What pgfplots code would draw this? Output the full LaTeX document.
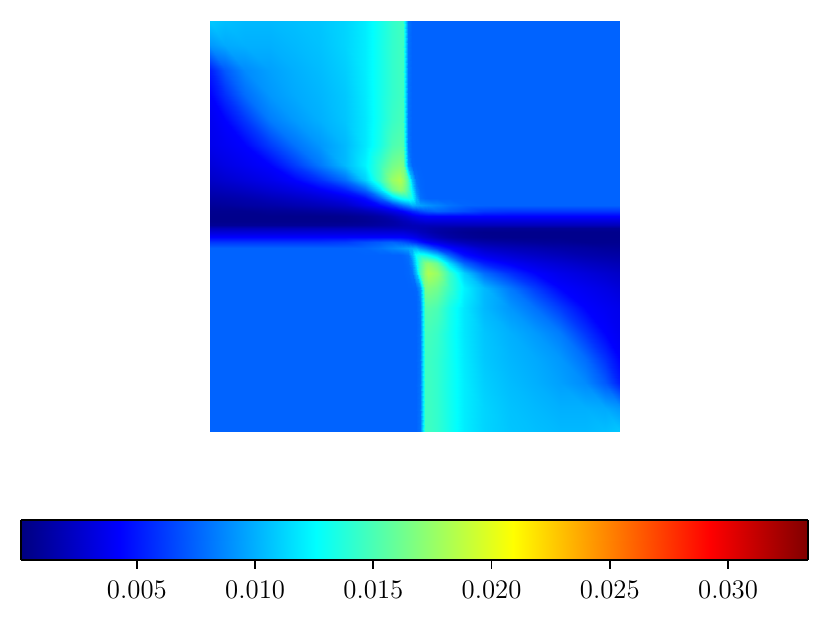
\documentclass[border=0pt]{standalone}
\usepackage{pgfplots}
\pgfplotsset{compat=1.18}
\begin{document}
\begin{tikzpicture}[x=1pt,y=1pt]
\path[use as bounding box] (0,0) rectangle (415,312.5);
\begin{axis}[
  at={(105pt,96.5pt)},
  anchor=south west,
  scale only axis,
  width=205pt, height=205.5pt,
  hide axis,
  view={0}{90},
  xmin=210, xmax=620,
  ymin=21, ymax=432,
  colormap/jet,
  point meta min=0.0001,
  point meta max=0.03338,
]
% y is in image pixels from the top, flipped by the filter
\addplot3[surf, shader=interp, mesh/cols=28, mesh/ordering=x varies, y filter/.expression={453-y}] coordinates {
(210,21,.0108)(225,21,.0105)(245,21,.0103)(270,21,.0103)(295,21,.0105)(320,21,.0107)(345,21,.0112)(365,21,.0120)(380,21,.0132)(392,21,.0142)(400,21,.0146)(403,21,.0146)(408,21,.0080)(412,21,.0075)(416,21,.0075)(420,21,.0075)(425,21,.0075)(428,21,.0075)(437,21,.0075)(449,21,.0075)(464,21,.0075)(484,21,.0075)(510,21,.0075)(535,21,.0075)(560,21,.0075)(585,21,.0075)(605,21,.0075)(620,21,.0075)
(210,45,.0092)(225,45,.0098)(245,45,.0100)(270,45,.0100)(295,45,.0103)(320,45,.0106)(345,45,.0112)(365,45,.0120)(380,45,.0132)(392,45,.0142)(400,45,.0146)(403,45,.0146)(408,45,.0080)(412,45,.0075)(416,45,.0075)(420,45,.0075)(425,45,.0075)(428,45,.0075)(437,45,.0075)(449,45,.0075)(464,45,.0075)(484,45,.0075)(510,45,.0075)(535,45,.0075)(560,45,.0075)(585,45,.0075)(605,45,.0075)(620,45,.0075)
(210,70,.0052)(225,70,.0072)(245,70,.0088)(270,70,.0095)(295,70,.0100)(320,70,.0104)(345,70,.0110)(365,70,.0120)(380,70,.0132)(392,70,.0142)(400,70,.0146)(403,70,.0146)(408,70,.0080)(412,70,.0075)(416,70,.0075)(420,70,.0075)(425,70,.0075)(428,70,.0075)(437,70,.0075)(449,70,.0075)(464,70,.0075)(484,70,.0075)(510,70,.0075)(535,70,.0075)(560,70,.0075)(585,70,.0075)(605,70,.0075)(620,70,.0075)
(210,95,.0042)(225,95,.0058)(245,95,.0078)(270,95,.0092)(295,95,.0098)(320,95,.0102)(345,95,.0108)(365,95,.0119)(380,95,.0132)(392,95,.0142)(400,95,.0146)(403,95,.0146)(408,95,.0080)(412,95,.0075)(416,95,.0075)(420,95,.0075)(425,95,.0075)(428,95,.0075)(437,95,.0075)(449,95,.0075)(464,95,.0075)(484,95,.0075)(510,95,.0075)(535,95,.0075)(560,95,.0075)(585,95,.0075)(605,95,.0075)(620,95,.0075)
(210,120,.0038)(225,120,.0043)(245,120,.0060)(270,120,.0083)(295,120,.0093)(320,120,.0100)(345,120,.0107)(365,120,.0118)(380,120,.0132)(392,120,.0144)(400,120,.0148)(403,120,.0148)(408,120,.0080)(412,120,.0075)(416,120,.0075)(420,120,.0075)(425,120,.0075)(428,120,.0075)(437,120,.0075)(449,120,.0075)(464,120,.0075)(484,120,.0075)(510,120,.0075)(535,120,.0075)(560,120,.0075)(585,120,.0075)(605,120,.0075)(620,120,.0075)
(210,145,.0036)(225,145,.0039)(245,145,.0043)(270,145,.0062)(295,145,.0080)(320,145,.0092)(345,145,.0103)(365,145,.0118)(380,145,.0134)(392,145,.0150)(400,145,.0154)(403,145,.0152)(408,145,.0082)(412,145,.0075)(416,145,.0075)(420,145,.0075)(425,145,.0075)(428,145,.0075)(437,145,.0075)(449,145,.0075)(464,145,.0075)(484,145,.0075)(510,145,.0075)(535,145,.0075)(560,145,.0075)(585,145,.0075)(605,145,.0075)(620,145,.0075)
(210,165,.0030)(225,165,.0034)(245,165,.0038)(270,165,.0043)(295,165,.0062)(320,165,.0082)(345,165,.0103)(365,165,.0122)(380,165,.0145)(392,165,.0163)(400,165,.0168)(403,165,.0165)(408,165,.0092)(412,165,.0076)(416,165,.0075)(420,165,.0075)(425,165,.0075)(428,165,.0075)(437,165,.0075)(449,165,.0075)(464,165,.0075)(484,165,.0075)(510,165,.0075)(535,165,.0075)(560,165,.0075)(585,165,.0075)(605,165,.0075)(620,165,.0075)
(210,180,.0024)(225,180,.0027)(245,180,.0031)(270,180,.0036)(295,180,.0043)(320,180,.0058)(345,180,.0078)(365,180,.0110)(380,180,.0145)(392,180,.0175)(400,180,.0183)(403,180,.0175)(408,180,.0150)(412,180,.0105)(416,180,.0080)(420,180,.0076)(425,180,.0075)(428,180,.0075)(437,180,.0075)(449,180,.0075)(464,180,.0075)(484,180,.0075)(510,180,.0075)(535,180,.0075)(560,180,.0075)(585,180,.0075)(605,180,.0075)(620,180,.0075)
(210,190,.0018)(225,190,.0020)(245,190,.0023)(270,190,.0028)(295,190,.0033)(320,190,.0040)(345,190,.0052)(365,190,.0075)(380,190,.0115)(392,190,.0160)(400,190,.0172)(403,190,.0168)(408,190,.0150)(412,190,.0120)(416,190,.0088)(420,190,.0077)(425,190,.0075)(428,190,.0075)(437,190,.0075)(449,190,.0075)(464,190,.0075)(484,190,.0075)(510,190,.0075)(535,190,.0075)(560,190,.0075)(585,190,.0075)(605,190,.0075)(620,190,.0075)
(210,198,.0013)(225,198,.0014)(245,198,.0016)(270,198,.0020)(295,198,.0024)(320,198,.0029)(345,198,.0036)(365,198,.0047)(380,198,.0075)(392,198,.0110)(400,198,.0128)(403,198,.0132)(408,198,.0135)(412,198,.0128)(416,198,.0100)(420,198,.0080)(425,198,.0076)(428,198,.0075)(437,198,.0075)(449,198,.0075)(464,198,.0075)(484,198,.0075)(510,198,.0075)(535,198,.0075)(560,198,.0075)(585,198,.0075)(605,198,.0075)(620,198,.0075)
(210,205,.0009)(225,205,.0010)(245,205,.0012)(270,205,.0014)(295,205,.0017)(320,205,.0020)(345,205,.0025)(365,205,.0036)(380,205,.0046)(392,205,.0060)(400,205,.0076)(403,205,.0082)(408,205,.0090)(412,205,.0100)(416,205,.0098)(420,205,.0095)(425,205,.0092)(428,205,.0090)(437,205,.0086)(449,205,.0080)(464,205,.0076)(484,205,.0075)(510,205,.0075)(535,205,.0075)(560,205,.0075)(585,205,.0075)(605,205,.0075)(620,205,.0075)
(210,211,.0006)(225,211,.0006)(245,211,.0006)(270,211,.0008)(295,211,.0009)(320,211,.0011)(345,211,.0014)(365,211,.0019)(380,211,.0026)(392,211,.0034)(400,211,.0040)(403,211,.0043)(408,211,.0050)(412,211,.0056)(416,211,.0060)(420,211,.0066)(425,211,.0070)(428,211,.0072)(437,211,.0075)(449,211,.0072)(464,211,.0068)(484,211,.0062)(510,211,.0060)(535,211,.0060)(560,211,.0060)(585,211,.0060)(605,211,.0060)(620,211,.0060)
(210,216,.0005)(225,216,.0005)(245,216,.0005)(270,216,.0005)(295,216,.0005)(320,216,.0005)(345,216,.0006)(365,216,.0009)(380,216,.0013)(392,216,.0019)(400,216,.0025)(403,216,.0027)(408,216,.0031)(412,216,.0035)(416,216,.0038)(420,216,.0040)(425,216,.0042)(428,216,.0043)(437,216,.0043)(449,216,.0043)(464,216,.0043)(484,216,.0043)(510,216,.0043)(535,216,.0043)(560,216,.0043)(585,216,.0043)(605,216,.0043)(620,216,.0043)
(210,221,.0005)(225,221,.0005)(245,221,.0005)(270,221,.0005)(295,221,.0005)(320,221,.0005)(345,221,.0005)(365,221,.0007)(380,221,.0010)(392,221,.0013)(400,221,.0017)(403,221,.0019)(408,221,.0021)(412,221,.0024)(416,221,.0026)(420,221,.0028)(425,221,.0030)(428,221,.0030)(437,221,.0030)(449,221,.0030)(464,221,.0030)(484,221,.0030)(510,221,.0030)(535,221,.0030)(560,221,.0030)(585,221,.0030)(605,221,.0030)(620,221,.0030)
(210,225,.0008)(225,225,.0008)(245,225,.0008)(270,225,.0008)(295,225,.0008)(320,225,.0008)(345,225,.0009)(365,225,.0010)(380,225,.0012)(392,225,.0014)(400,225,.0016)(403,225,.0017)(408,225,.0018)(412,225,.0019)(416,225,.0019)(420,225,.0020)(425,225,.0020)(428,225,.0020)(437,225,.0020)(449,225,.0020)(464,225,.0020)(484,225,.0020)(510,225,.0020)(535,225,.0020)(560,225,.0020)(585,225,.0020)(605,225,.0020)(620,225,.0020)
(210,228,.0020)(225,228,.0020)(245,228,.0020)(270,228,.0020)(295,228,.0020)(320,228,.0020)(345,228,.0020)(365,228,.0020)(380,228,.0020)(392,228,.0020)(400,228,.0020)(403,228,.0020)(408,228,.0020)(412,228,.0019)(416,228,.0019)(420,228,.0018)(425,228,.0017)(428,228,.0016)(437,228,.0014)(449,228,.0012)(464,228,.0010)(484,228,.0009)(510,228,.0008)(535,228,.0008)(560,228,.0008)(585,228,.0008)(605,228,.0008)(620,228,.0008)
(210,232,.0030)(225,232,.0030)(245,232,.0030)(270,232,.0030)(295,232,.0030)(320,232,.0030)(345,232,.0030)(365,232,.0030)(380,232,.0030)(392,232,.0030)(400,232,.0030)(403,232,.0030)(408,232,.0028)(412,232,.0026)(416,232,.0024)(420,232,.0021)(425,232,.0019)(428,232,.0017)(437,232,.0013)(449,232,.0010)(464,232,.0007)(484,232,.0005)(510,232,.0005)(535,232,.0005)(560,232,.0005)(585,232,.0005)(605,232,.0005)(620,232,.0005)
(210,237,.0043)(225,237,.0043)(245,237,.0043)(270,237,.0043)(295,237,.0043)(320,237,.0043)(345,237,.0043)(365,237,.0043)(380,237,.0043)(392,237,.0043)(400,237,.0043)(403,237,.0042)(408,237,.0040)(412,237,.0038)(416,237,.0035)(420,237,.0031)(425,237,.0027)(428,237,.0025)(437,237,.0019)(449,237,.0013)(464,237,.0009)(484,237,.0006)(510,237,.0005)(535,237,.0005)(560,237,.0005)(585,237,.0005)(605,237,.0005)(620,237,.0005)
(210,242,.0060)(225,242,.0060)(245,242,.0060)(270,242,.0060)(295,242,.0060)(320,242,.0060)(345,242,.0062)(365,242,.0068)(380,242,.0072)(392,242,.0075)(400,242,.0072)(403,242,.0070)(408,242,.0066)(412,242,.0060)(416,242,.0056)(420,242,.0050)(425,242,.0043)(428,242,.0040)(437,242,.0034)(449,242,.0026)(464,242,.0019)(484,242,.0014)(510,242,.0011)(535,242,.0009)(560,242,.0008)(585,242,.0006)(605,242,.0006)(620,242,.0006)
(210,248,.0075)(225,248,.0075)(245,248,.0075)(270,248,.0075)(295,248,.0075)(320,248,.0075)(345,248,.0075)(365,248,.0076)(380,248,.0080)(392,248,.0086)(400,248,.0090)(403,248,.0092)(408,248,.0095)(412,248,.0098)(416,248,.0100)(420,248,.0090)(425,248,.0082)(428,248,.0076)(437,248,.0060)(449,248,.0046)(464,248,.0036)(484,248,.0025)(510,248,.0020)(535,248,.0017)(560,248,.0014)(585,248,.0012)(605,248,.0010)(620,248,.0009)
(210,255,.0075)(225,255,.0075)(245,255,.0075)(270,255,.0075)(295,255,.0075)(320,255,.0075)(345,255,.0075)(365,255,.0075)(380,255,.0075)(392,255,.0075)(400,255,.0075)(403,255,.0076)(408,255,.0080)(412,255,.0100)(416,255,.0128)(420,255,.0135)(425,255,.0132)(428,255,.0128)(437,255,.0110)(449,255,.0075)(464,255,.0047)(484,255,.0036)(510,255,.0029)(535,255,.0024)(560,255,.0020)(585,255,.0016)(605,255,.0014)(620,255,.0013)
(210,263,.0075)(225,263,.0075)(245,263,.0075)(270,263,.0075)(295,263,.0075)(320,263,.0075)(345,263,.0075)(365,263,.0075)(380,263,.0075)(392,263,.0075)(400,263,.0075)(403,263,.0075)(408,263,.0077)(412,263,.0088)(416,263,.0120)(420,263,.0150)(425,263,.0168)(428,263,.0172)(437,263,.0160)(449,263,.0115)(464,263,.0075)(484,263,.0052)(510,263,.0040)(535,263,.0033)(560,263,.0028)(585,263,.0023)(605,263,.0020)(620,263,.0018)
(210,273,.0075)(225,273,.0075)(245,273,.0075)(270,273,.0075)(295,273,.0075)(320,273,.0075)(345,273,.0075)(365,273,.0075)(380,273,.0075)(392,273,.0075)(400,273,.0075)(403,273,.0075)(408,273,.0076)(412,273,.0080)(416,273,.0105)(420,273,.0150)(425,273,.0175)(428,273,.0183)(437,273,.0175)(449,273,.0145)(464,273,.0110)(484,273,.0078)(510,273,.0058)(535,273,.0043)(560,273,.0036)(585,273,.0031)(605,273,.0027)(620,273,.0024)
(210,288,.0075)(225,288,.0075)(245,288,.0075)(270,288,.0075)(295,288,.0075)(320,288,.0075)(345,288,.0075)(365,288,.0075)(380,288,.0075)(392,288,.0075)(400,288,.0075)(403,288,.0075)(408,288,.0075)(412,288,.0075)(416,288,.0076)(420,288,.0092)(425,288,.0165)(428,288,.0168)(437,288,.0163)(449,288,.0145)(464,288,.0122)(484,288,.0103)(510,288,.0082)(535,288,.0062)(560,288,.0043)(585,288,.0038)(605,288,.0034)(620,288,.0030)
(210,308,.0075)(225,308,.0075)(245,308,.0075)(270,308,.0075)(295,308,.0075)(320,308,.0075)(345,308,.0075)(365,308,.0075)(380,308,.0075)(392,308,.0075)(400,308,.0075)(403,308,.0075)(408,308,.0075)(412,308,.0075)(416,308,.0075)(420,308,.0082)(425,308,.0152)(428,308,.0154)(437,308,.0150)(449,308,.0134)(464,308,.0118)(484,308,.0103)(510,308,.0092)(535,308,.0080)(560,308,.0062)(585,308,.0043)(605,308,.0039)(620,308,.0036)
(210,333,.0075)(225,333,.0075)(245,333,.0075)(270,333,.0075)(295,333,.0075)(320,333,.0075)(345,333,.0075)(365,333,.0075)(380,333,.0075)(392,333,.0075)(400,333,.0075)(403,333,.0075)(408,333,.0075)(412,333,.0075)(416,333,.0075)(420,333,.0080)(425,333,.0148)(428,333,.0148)(437,333,.0144)(449,333,.0132)(464,333,.0118)(484,333,.0107)(510,333,.0100)(535,333,.0093)(560,333,.0083)(585,333,.0060)(605,333,.0043)(620,333,.0038)
(210,358,.0075)(225,358,.0075)(245,358,.0075)(270,358,.0075)(295,358,.0075)(320,358,.0075)(345,358,.0075)(365,358,.0075)(380,358,.0075)(392,358,.0075)(400,358,.0075)(403,358,.0075)(408,358,.0075)(412,358,.0075)(416,358,.0075)(420,358,.0080)(425,358,.0146)(428,358,.0146)(437,358,.0142)(449,358,.0132)(464,358,.0119)(484,358,.0108)(510,358,.0102)(535,358,.0098)(560,358,.0092)(585,358,.0078)(605,358,.0058)(620,358,.0042)
(210,383,.0075)(225,383,.0075)(245,383,.0075)(270,383,.0075)(295,383,.0075)(320,383,.0075)(345,383,.0075)(365,383,.0075)(380,383,.0075)(392,383,.0075)(400,383,.0075)(403,383,.0075)(408,383,.0075)(412,383,.0075)(416,383,.0075)(420,383,.0080)(425,383,.0146)(428,383,.0146)(437,383,.0142)(449,383,.0132)(464,383,.0120)(484,383,.0110)(510,383,.0104)(535,383,.0100)(560,383,.0095)(585,383,.0088)(605,383,.0072)(620,383,.0052)
(210,408,.0075)(225,408,.0075)(245,408,.0075)(270,408,.0075)(295,408,.0075)(320,408,.0075)(345,408,.0075)(365,408,.0075)(380,408,.0075)(392,408,.0075)(400,408,.0075)(403,408,.0075)(408,408,.0075)(412,408,.0075)(416,408,.0075)(420,408,.0080)(425,408,.0146)(428,408,.0146)(437,408,.0142)(449,408,.0132)(464,408,.0120)(484,408,.0112)(510,408,.0106)(535,408,.0103)(560,408,.0100)(585,408,.0100)(605,408,.0098)(620,408,.0092)
(210,432,.0075)(225,432,.0075)(245,432,.0075)(270,432,.0075)(295,432,.0075)(320,432,.0075)(345,432,.0075)(365,432,.0075)(380,432,.0075)(392,432,.0075)(400,432,.0075)(403,432,.0075)(408,432,.0075)(412,432,.0075)(416,432,.0075)(420,432,.0080)(425,432,.0146)(428,432,.0146)(437,432,.0142)(449,432,.0132)(464,432,.0120)(484,432,.0112)(510,432,.0107)(535,432,.0105)(560,432,.0103)(585,432,.0103)(605,432,.0105)(620,432,.0108)
};
\end{axis}
% colour bar, jet knots of the same scale
\begin{axis}[
  at={(10.5pt,32.5pt)},
  anchor=south west,
  scale only axis,
  width=393.5pt, height=20pt,
  view={0}{90},
  xmin=0.0001, xmax=0.03338,
  ymin=0, ymax=1,
  colormap/jet,
  point meta min=0.0001,
  point meta max=0.03338,
  ytick=\empty,
  scaled x ticks=false,
  xtick={0.005,0.010,0.015,0.020,0.025,0.030},
  xticklabels={0.005,0.010,0.015,0.020,0.025,0.030},
  xticklabel style={font=\fontsize{13.4}{16}\selectfont, yshift=-2.5pt},
  xtick pos=bottom,
  tick align=outside,
  major tick length=4.5pt,
  tick style={black, line width=0.9pt},
  axis line style={line width=1pt},
  axis on top,
]
\addplot3[surf, shader=interp, mesh/cols=6, mesh/ordering=x varies] coordinates {
(0.0001,0,0.0001)(0.00426,0,0.00426)(0.01258,0,0.01258)(0.0209,0,0.0209)(0.02922,0,0.02922)(0.03338,0,0.03338)
(0.0001,1,0.0001)(0.00426,1,0.00426)(0.01258,1,0.01258)(0.0209,1,0.0209)(0.02922,1,0.02922)(0.03338,1,0.03338)
};
\end{axis}
\end{tikzpicture}
\end{document}
